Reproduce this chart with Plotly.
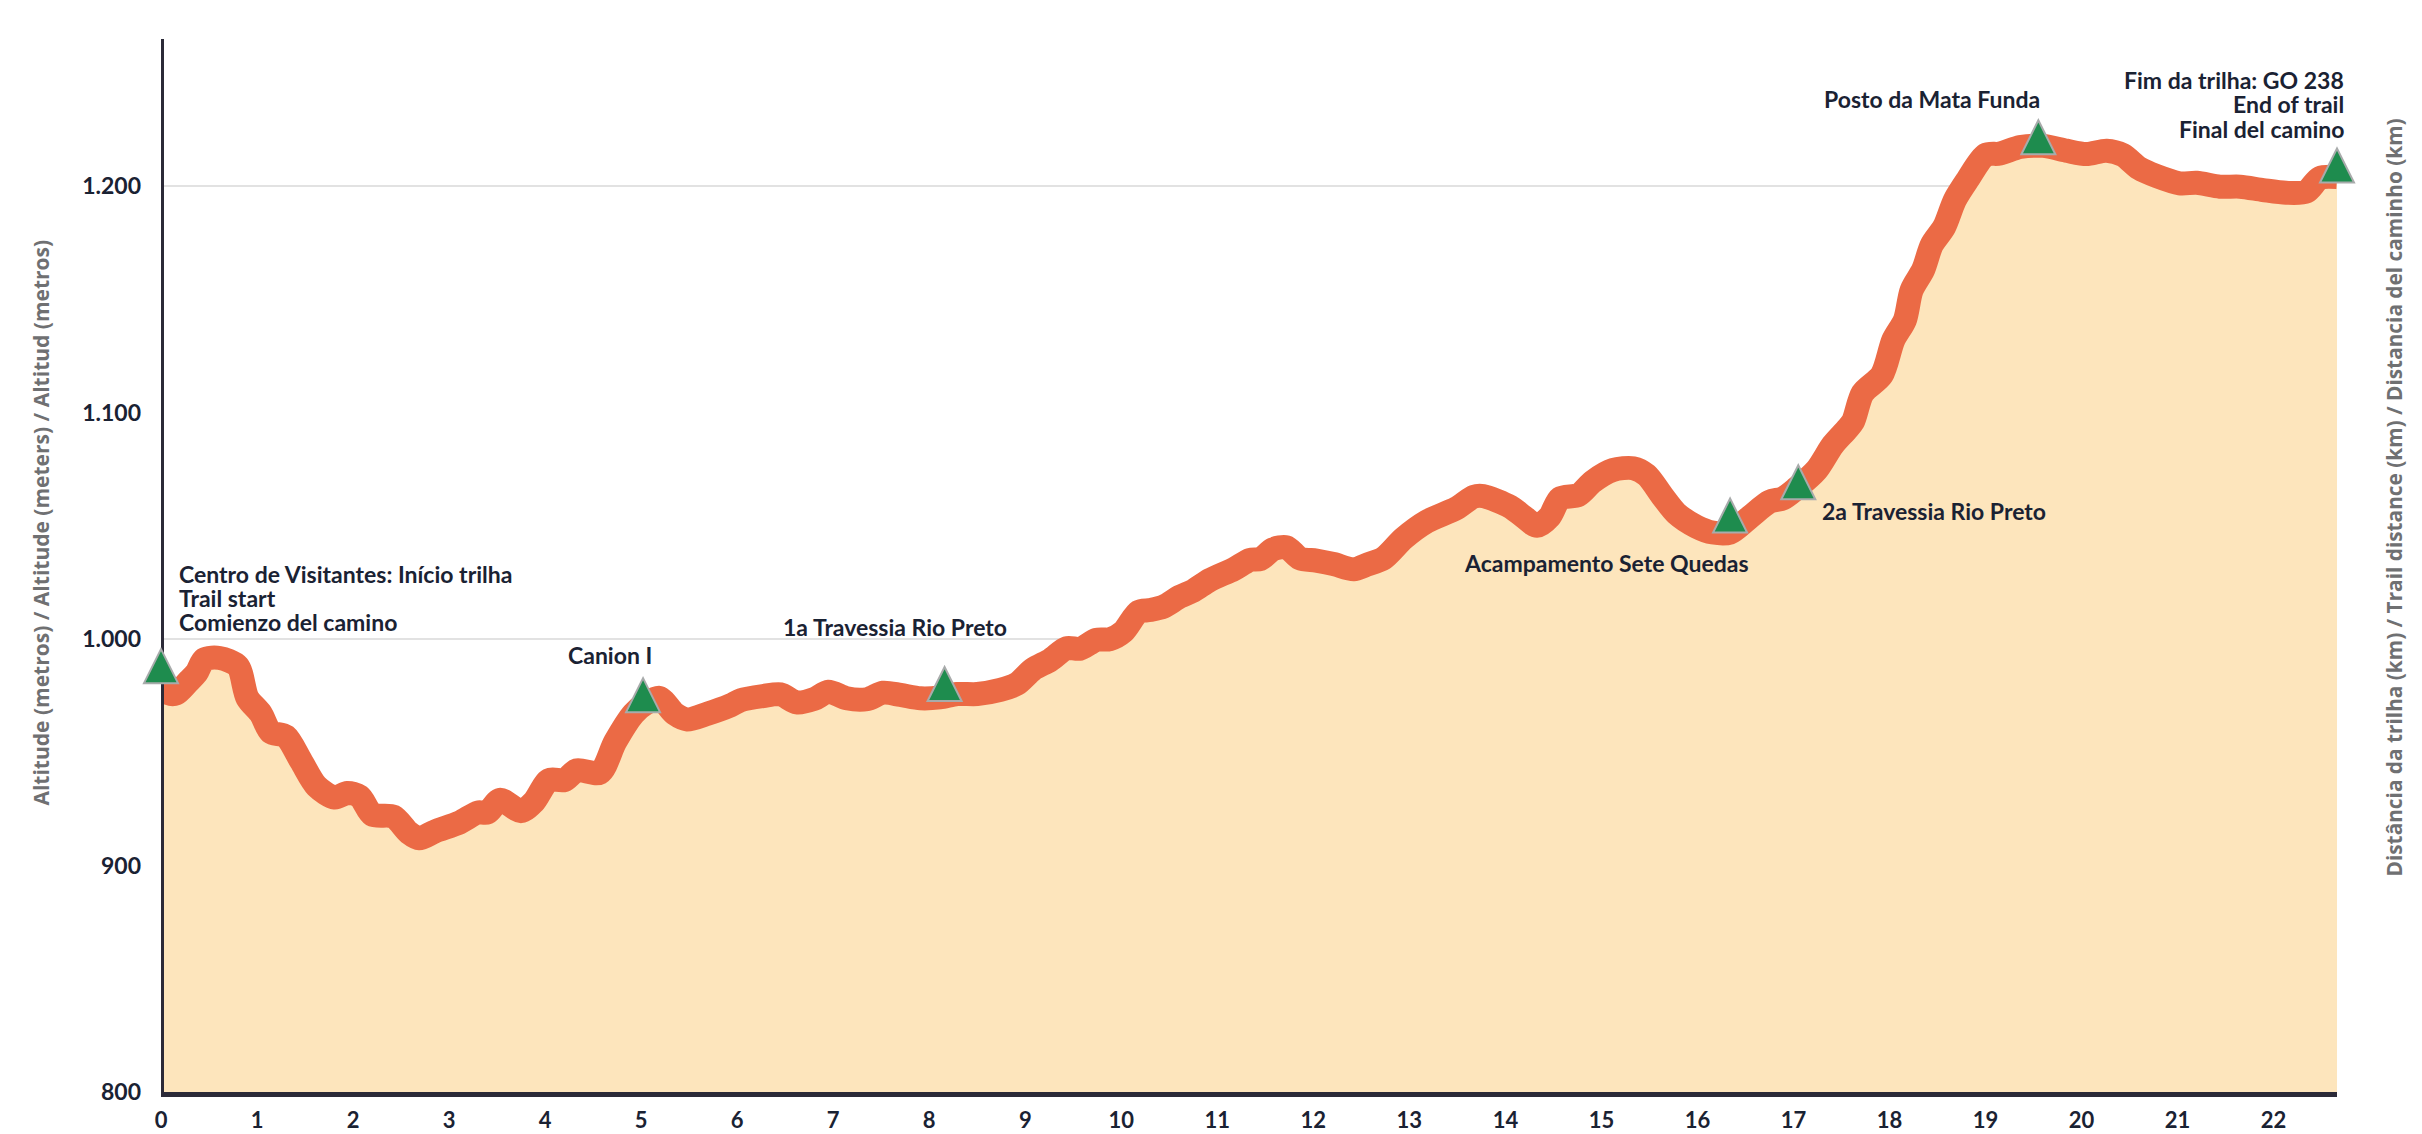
import plotly.graph_objects as go

km = [0, 0.08, 0.16, 0.28, 0.37, 0.45, 0.61, 0.8, 0.9, 1.04, 1.14, 1.3, 1.46, 1.62, 1.81, 1.94, 2.07, 2.2, 2.42, 2.58, 2.69,
      2.85, 3.11, 3.3, 3.4, 3.53, 3.75, 3.88, 4.04, 4.2, 4.33, 4.57, 4.73, 4.92, 5.05, 5.19, 5.35, 5.48, 5.69, 5.93, 6.04,
      6.27, 6.45, 6.62, 6.8, 6.95, 7.14, 7.35, 7.52, 7.7, 7.91, 8.11, 8.29, 8.5, 8.74, 8.91, 9.08, 9.26, 9.43, 9.57, 9.74,
      9.88, 10.02, 10.18, 10.3, 10.44, 10.61, 10.75, 10.92, 11.17, 11.34, 11.45, 11.58, 11.72, 11.86, 12.03, 12.21, 12.42,
      12.55, 12.73, 12.94, 13.18, 13.49, 13.67, 13.77, 14.05, 14.19, 14.33, 14.46, 14.57, 14.76, 14.91, 15.12, 15.33, 15.47,
      15.64, 15.78, 15.99, 16.16, 16.34, 16.55, 16.75, 16.89, 17.03, 17.24, 17.41, 17.55, 17.62, 17.72, 17.92, 18.04, 18.16,
      18.23, 18.35, 18.44, 18.57, 18.68, 18.81, 19.0, 19.15, 19.36, 19.6, 19.84, 20.05, 20.26, 20.43, 20.6, 20.78, 21.02,
      21.2, 21.44, 21.65, 21.89, 22.13, 22.34, 22.48, 22.66]
altitude = [979, 976, 976, 981, 985, 991, 991.6, 988, 974, 967, 959, 957, 946, 935, 930, 932, 930.5, 922.5, 921.6, 914.5, 912,
            915, 919, 923.4, 923.4, 929, 924, 928, 937.7, 937.7, 942, 941, 954.6, 967, 971.6, 974, 967, 964.5, 967, 970.7, 973,
            974.8, 975.6, 972, 973.5, 976.7, 973.8, 973.4, 976.3, 975.3, 973.8, 974.2, 975.7, 975.7, 977.5, 980.1, 986.6, 990.7,
            995.9, 995.7, 999.6, 999.9, 1003.2, 1012, 1012.8, 1014.3, 1018.7, 1021.3, 1026, 1030.8, 1034.9, 1035.3, 1039.6,
            1040.5, 1035.6, 1034.6, 1033.1, 1030.8, 1032.7, 1035.6, 1044.4, 1051.8, 1057.7, 1062.8, 1063.1, 1058.4, 1054, 1050,
            1054, 1062.1, 1063.6, 1069.5, 1074.6, 1075.4, 1072.4, 1062.8, 1055.5, 1049.6, 1047, 1047, 1054, 1060.6, 1062.1,
            1066.5, 1074.6, 1085.7, 1092.3, 1096, 1108.5, 1116.6, 1132, 1140.8, 1154, 1163, 1174, 1182, 1193.8, 1202.6, 1213.7,
            1214.3, 1217.2, 1217.7, 1215.6, 1214.1, 1215.6, 1213.7, 1207.8, 1204.4, 1201.2, 1201.4, 1199.7, 1199.7, 1198.2,
            1197, 1197.5, 1203.5, 1204]

stop_km = [0, 5.02, 8.16, 16.34, 17.05, 19.55, 22.66]
stop_base_alt = [980.5, 967.7, 972.6, 1047, 1061.7, 1214, 1201.5]

x_ticks = list(range(23))
y_ticks = [800, 900, 1000, 1100, 1200]
y_tick_labels = ["800", "900", "1.000", "1.100", "1.200"]
grid_levels = [1000, 1200]

labels = ["Centro de Visitantes: Início trilha", "Trail start", "Comienzo del camino", "Canion I", "1a Travessia Rio Preto",
          "Acampamento Sete Quedas", "2a Travessia Rio Preto", "Posto da Mata Funda",
          "Fim da trilha: GO 238", "End of trail", "Final del camino"]
label_km = [0.165, 0.165, 0.165, 4.68, 7.64, 15.05, 18.46, 18.44, 22.75, 22.75, 22.75]
label_alt = [1028.7, 1018.1, 1007.5, 993, 1005.4, 1033.7, 1056.5, 1238.4, 1246.8, 1236, 1225.2]
label_anchor = ["left", "left", "left", "center", "center", "center", "center", "center", "right", "right", "right"]

y_title = "Altitude (metros) / Altitude (meters) / Altitud (metros)"
right_title = "Distância da trilha (km) / Trail distance (km) / Distancia del caminho (km)"

TEXT = "#1a2233"
AXIS = "#2b2a38"
GREY = "#6f7072"
FONT = "Lato"
Y_TOP = 1264.9
X_END = km[-1]

fig = go.Figure()
fig.add_trace(go.Scatter(x=km, y=altitude, mode="lines", fill="tozeroy", fillcolor="#fde5bc",
                         line=dict(width=0, shape="spline", smoothing=0.8), hoverinfo="skip", showlegend=False))
fig.add_trace(go.Scatter(x=km, y=altitude, mode="lines", cliponaxis=False,
                         line=dict(color="#eb6a45", width=24, shape="spline", smoothing=0.8), showlegend=False))
fig.add_trace(go.Scatter(x=[0, 0], y=[y_ticks[0], Y_TOP], mode="lines", cliponaxis=False,
                         line=dict(color=AXIS, width=6), hoverinfo="skip", showlegend=False))

shapes = [dict(type="line", layer="below", xref="x", yref="y", x0=0, x1=X_END, y0=g, y1=g,
               line=dict(color="#e2e2e2", width=2)) for g in grid_levels]
for k, a in zip(stop_km, stop_base_alt):
    shapes.append(dict(type="path", layer="above", xref="paper", yref="y", xsizemode="pixel", ysizemode="pixel",
                       xanchor=k / X_END, yanchor=a, path="M -17 0 L 17 0 L 0 34 Z",
                       fillcolor="#1e8c4e", line=dict(color="#a8abab", width=2)))

annotations = [dict(x=x / X_END, y=y, xref="paper", yref="y", text=t, showarrow=False, xanchor=an, yanchor="middle", align=an,
                    font=dict(family=FONT, size=23, color=TEXT, weight=700))
               for t, x, y, an in zip(labels, label_km, label_alt, label_anchor)]
W, H = 2422, 1134
L, R, T, B = 160.5, 84.5, 39, 42
PW, PH = W - L - R, H - T - B
annotations.append(dict(x=(40 - L) / PW, y=1 - (523 - T) / PH, xref="paper", yref="paper", text=y_title, textangle=-90,
                        showarrow=False, xanchor="center", yanchor="middle",
                        font=dict(family="Open Sans", size=21, color=GREY, weight=700)))
annotations.append(dict(x=(2395 - L) / PW, y=1 - (497 - T) / PH, xref="paper", yref="paper", text=right_title, textangle=-90,
                        showarrow=False, xanchor="center", yanchor="middle",
                        font=dict(family="Open Sans", size=20.8, color=GREY, weight=700)))

fig.update_layout(
    width=W, height=H, margin=dict(l=L, r=R, t=T, b=B, pad=0, autoexpand=False), paper_bgcolor="white", plot_bgcolor="white",
    showlegend=False, shapes=shapes, annotations=annotations,
    font=dict(family=FONT, size=23, color=TEXT, weight=700),
    xaxis=dict(range=[0, X_END], tickmode="array", tickvals=x_ticks, ticktext=[str(v) for v in x_ticks], showgrid=False,
               zeroline=False, showline=True, linecolor=AXIS, linewidth=5, ticks="", ticklabelstandoff=5, automargin=False,
               tickfont=dict(family=FONT, size=22, color=TEXT, weight=700)),
    yaxis=dict(range=[y_ticks[0], Y_TOP], tickmode="array", tickvals=y_ticks, ticktext=y_tick_labels, showgrid=False,
               zeroline=False, showline=False, ticks="", ticklabelstandoff=19, automargin=False),
)
fig.write_html("out.html", config=dict(displayModeBar=False),
               post_script="document.body.style.margin='0';document.body.style.overflow='hidden';")
